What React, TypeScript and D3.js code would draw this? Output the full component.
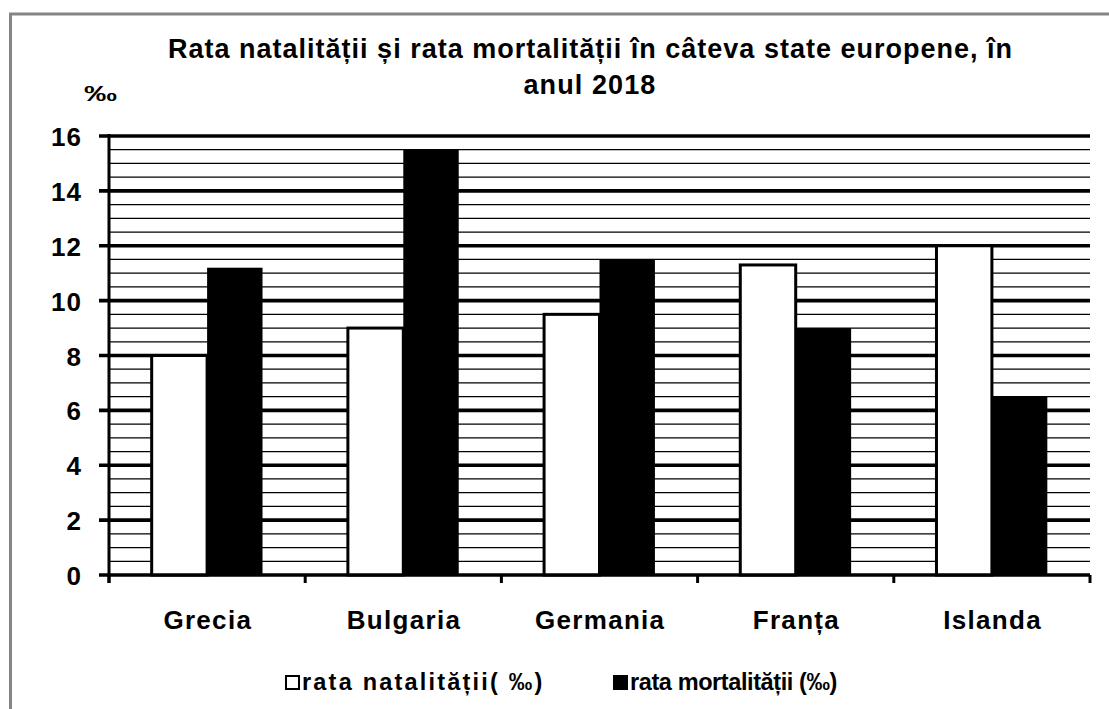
import React from 'react'
import * as d3 from 'd3'

const categories = ['Grecia', 'Bulgaria', 'Germania', 'Franța', 'Islanda']
const natalitate = [8.0, 9.0, 9.5, 11.3, 12.0]
const mortalitate = [11.2, 15.5, 11.5, 9.0, 6.5]
const seriesNames = ['rata natalității( ‰)', 'rata mortalității (‰)']
const yTicks = [0, 2, 4, 6, 8, 10, 12, 14, 16]
const titleLines = ['Rata natalității și rata mortalității în câteva state europene, în', 'anul 2018']
const yUnit = '‰'

const FONT = '"Liberation Sans", Arial, sans-serif'

function App() {
    const width = 1109
    const height = 709

    const x = d3.scaleBand().domain(categories).range([109, 1090]).padding(0)
    const inner = d3.scaleBand().domain(['n', 'm']).range([0, x.bandwidth()]).paddingInner(0).paddingOuter(0.77)
    const y = d3.scaleLinear().domain([0, 16]).range([575, 136])

    const minor = y.ticks(32).filter(v => !yTicks.includes(v))
    const boundaries = categories.map(c => x(c)).concat([x.range()[1]])

    const series = [
        { key: 'n', values: natalitate, fill: '#fff' },
        { key: 'm', values: mortalitate, fill: '#000' },
    ]

    return (
        <svg width={width} height={height} style={{ position: 'absolute', left: 0, top: 0, display: 'block' }}>
            <rect x={0} y={0} width={width} height={height} fill='#fff' />
            {/* grey frame, runs past the window on the right and bottom */}
            <rect x={10.5} y={14} width={1200} height={800} fill='none' stroke='#858585' strokeWidth={3} />

            {/* title */}
            {titleLines.map((t, i) => (
                <text key={i} x={590} y={58 + i * 36} textAnchor='middle' fontFamily={FONT} fontWeight='bold'
                    fontSize={27} letterSpacing={i === 0 ? 0 : 1.1} textLength={i === 0 ? 844 : undefined}
                    lengthAdjust='spacing'>{t}</text>
            ))}
            <text x={84} y={101} fontFamily={FONT} fontWeight='bold' fontSize={22}
                textLength={33} lengthAdjust='spacingAndGlyphs'>{yUnit}</text>

            {/* minor grid */}
            {minor.map(v => (
                <line key={'m' + v} x1={x.range()[0]} x2={x.range()[1]} y1={y(v)} y2={y(v)} stroke='#000' strokeWidth={1.3} />
            ))}
            {/* major grid + ticks */}
            {yTicks.map(v => (
                <line key={'M' + v} x1={99} x2={x.range()[1]} y1={y(v)} y2={y(v)} stroke='#000' strokeWidth={v === 0 ? 3 : 3.6} />
            ))}

            {/* bars */}
            {series.map(s => categories.map((c, i) => {
                const bx = x(c) + inner(s.key)
                const by = y(s.values[i])
                return (
                    <rect key={s.key + c} x={bx} y={by} width={inner.bandwidth()} height={y(0) - by}
                        fill={s.fill} stroke='#000' strokeWidth={s.key === 'n' ? 3 : 0} />
                )
            }))}

            {/* axes */}
            <line x1={109} x2={109} y1={y(16) - 2} y2={583} stroke='#000' strokeWidth={3} />
            <line x1={99} x2={x.range()[1]} y1={y(0)} y2={y(0)} stroke='#000' strokeWidth={3} />
            {boundaries.map((b, i) => (
                <line key={'t' + i} x1={b} x2={b} y1={y(0)} y2={583} stroke='#000' strokeWidth={3} />
            ))}

            {/* y labels */}
            {yTicks.map(v => (
                <text key={'l' + v} x={82} y={y(v) + 10} textAnchor='end' fontFamily={FONT} fontWeight='bold'
                    fontSize={26} letterSpacing={1}>{v}</text>
            ))}

            {/* category labels */}
            {categories.map(c => (
                <text key={'c' + c} x={x(c) + x.bandwidth() / 2 + 0.7} y={629} textAnchor='middle' fontFamily={FONT}
                    fontWeight='bold' fontSize={26} letterSpacing={1.3}>{c}</text>
            ))}

            {/* legend */}
            {seriesNames.map((name, i) => {
                const lx = i === 0 ? 285 : 613
                return (
                    <g key={'lg' + i} transform={`translate(${lx},676)`}>
                        <rect x={1} y={0} width={13} height={13} fill={series[i].fill} stroke='#000' strokeWidth={2} />
                        <text x={17} y={14} fontFamily={FONT} fontWeight='bold' fontSize={23.5}
                            letterSpacing={i === 0 ? 2.2 : -0.4}>{name}</text>
                    </g>
                )
            })}
        </svg>
    )
}

export default App
